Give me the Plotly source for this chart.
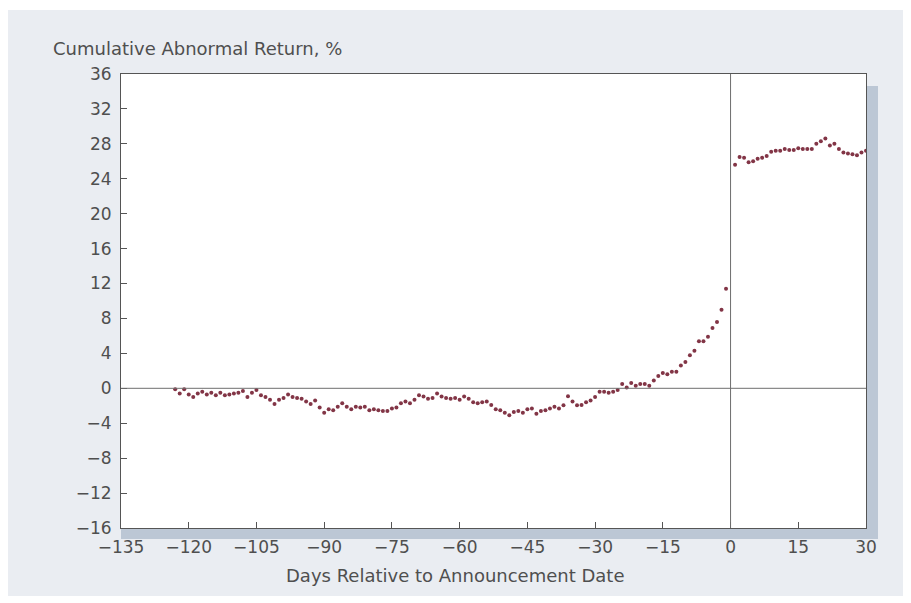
import plotly.graph_objects as go

# Days before announcement and cumulative abnormal return (%)
pre_days = list(range(-123, 0))
pre_car = [
    -0.1, -0.6, -0.1, -0.7, -1.0, -0.6, -0.4, -0.7, -0.5, -0.8,
    -0.5, -0.8, -0.7, -0.6, -0.5, -0.3, -1.0, -0.5, -0.2, -0.8,
    -1.0, -1.3, -1.8, -1.3, -1.1, -0.7, -1.0, -1.1, -1.2, -1.5,
    -1.8, -1.4, -2.2, -2.8, -2.4, -2.5, -2.1, -1.7, -2.1, -2.4,
    -2.1, -2.2, -2.1, -2.5, -2.4, -2.5, -2.6, -2.6, -2.3, -2.2,
    -1.7, -1.5, -1.7, -1.3, -0.8, -0.95, -1.2, -1.1, -0.6, -0.95,
    -1.1, -1.2, -1.1, -1.3, -0.95, -1.2, -1.6, -1.7, -1.6, -1.5,
    -1.9, -2.4, -2.5, -2.8, -3.1, -2.7, -2.6, -2.8, -2.4, -2.3,
    -2.9, -2.6, -2.5, -2.3, -2.1, -2.3, -1.95, -0.9, -1.5, -1.95,
    -1.9, -1.6, -1.4, -1.0, -0.4, -0.4, -0.5, -0.4, -0.2, 0.5,
    0.1, 0.6, 0.3, 0.5, 0.5, 0.3, 0.9, 1.4, 1.75, 1.6,
    1.9, 1.9, 2.6, 3.0, 3.8, 4.3, 5.4, 5.4, 5.9, 6.9,
    7.6, 9.0, 11.4,
]
pre_days = pre_days[-len(pre_car):]

post_days = list(range(1, 31))
post_car = [
    25.6, 26.5, 26.4, 25.9, 26.0, 26.3, 26.4, 26.6, 27.1, 27.2,
    27.2, 27.4, 27.3, 27.3, 27.5, 27.4, 27.4, 27.4, 28.0, 28.3,
    28.6, 27.8, 28.0, 27.4, 27.0, 26.9, 26.8, 26.7, 27.0, 27.2,
]

x_ticks = [-135, -120, -105, -90, -75, -60, -45, -30, -15, 0, 15, 30]
y_ticks = [-16, -12, -8, -4, 0, 4, 8, 12, 16, 20, 24, 28, 32, 36]

days = pre_days + post_days
car = pre_car + post_car

FONT = "DejaVu Sans, Liberation Sans, sans-serif"
TXT = "#4f4f4f"

fig = go.Figure()
fig.add_trace(go.Scatter(
    x=days, y=car, mode="markers",
    marker=dict(size=4, color="#823546"),
    hoverinfo="x+y", showlegend=False,
))

# page has an 8px body margin; figure spans page x 8..911, y 8..603
W, H = 903, 595
L, R, T, B = 113, 45, 66, 75
pw, ph = W - L - R, H - T - B

def px(xp):  # page pixel -> paper
    return (xp - 8 - L) / pw

def py(yp):
    return 1 - (yp - 8 - T) / ph

shapes = [
    dict(type="rect", xref="paper", yref="paper", layer="below",
         x0=px(8), x1=px(905), y0=py(596), y1=py(10),
         fillcolor="#eaedf2", line=dict(width=0)),
    dict(type="rect", xref="paper", yref="paper", layer="below",
         x0=px(866), x1=px(878), y0=py(539), y1=py(86),
         fillcolor="#bcc7d5", line=dict(width=0)),
    dict(type="rect", xref="paper", yref="paper", layer="below",
         x0=px(121), x1=px(878), y0=py(539), y1=py(528),
         fillcolor="#bcc7d5", line=dict(width=0)),
    dict(type="rect", xref="paper", yref="paper", layer="below",
         x0=0, x1=1, y0=0, y1=1,
         fillcolor="white", line=dict(width=0)),
    dict(type="line", xref="paper", yref="y", x0=0, x1=1, y0=0, y1=0,
         line=dict(color="#6e6e6e", width=1)),
    dict(type="line", xref="x", yref="paper", x0=0, x1=0, y0=0, y1=1,
         line=dict(color="#6e6e6e", width=1)),
]

fig.update_layout(
    width=W, height=H,
    margin=dict(l=L, r=R, t=T, b=B, autoexpand=False),
    paper_bgcolor="white",
    plot_bgcolor="rgba(0,0,0,0)",
    font=dict(family=FONT, color=TXT, size=16),
    shapes=shapes,
    xaxis=dict(
        range=[-135, 30], tickvals=x_ticks, ticks="inside", ticklen=6,
        tickcolor="#555", showgrid=False, zeroline=False,
        showline=True, linecolor="#555", linewidth=1, mirror=True,
        tickfont=dict(size=17, color=TXT), ticklabelstandoff=4,
        automargin=False,
    ),
    yaxis=dict(
        range=[-16, 36], tickvals=y_ticks, ticks="inside", ticklen=6,
        tickcolor="#555", showgrid=False, zeroline=False,
        showline=True, linecolor="#555", linewidth=1, mirror=True,
        tickfont=dict(size=17, color=TXT), ticklabelstandoff=5,
        automargin=False,
    ),
    annotations=[
        dict(text="Cumulative Abnormal Return, %", xref="paper", yref="paper",
             x=px(51), y=py(48), xanchor="left", yanchor="middle",
             showarrow=False, font=dict(size=18, color=TXT)),
        dict(text="Days Relative to Announcement Date", xref="paper", yref="paper",
             x=px(455), y=py(575), xanchor="center", yanchor="middle",
             showarrow=False, font=dict(size=18, color=TXT)),
    ],
)

fig.write_html("out.html")
